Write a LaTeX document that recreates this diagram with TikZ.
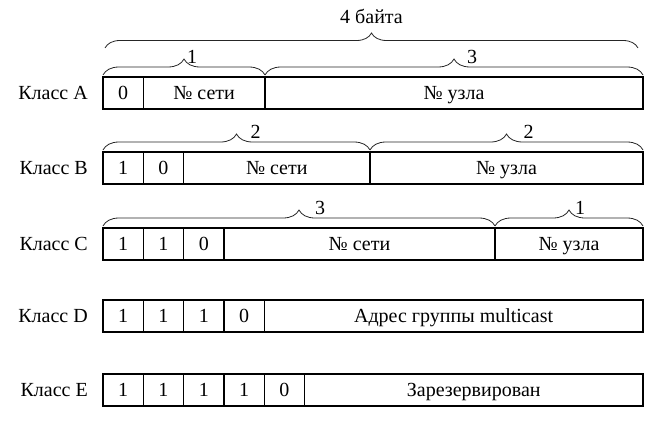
\documentclass[tikz,border=0pt]{standalone}
\usepackage{fontspec}
\setmainfont{Liberation Serif}
\usetikzlibrary{positioning,decorations.pathreplacing}

\begin{document}
\begin{tikzpicture}[x=1pt,y=-1pt,node distance=0pt,font=\fontsize{20}{24}\selectfont]
\tikzstyle{cell}=[draw=black,line width=1.4pt,minimum height=32pt,inner sep=0pt,outer sep=0pt,text height=16pt,text depth=2.4pt]
\tikzstyle{bit}=[cell,minimum width=40.3pt]
\tikzstyle{klass}=[inner sep=0pt,text height=16pt,text depth=2.4pt]
\tikzstyle{brc}=[decorate,decoration={brace,amplitude=16pt,raise=2pt},line width=0.8pt,draw=black!85]
\tikzstyle{cnt}=[midway,yshift=20pt]

\useasboundingbox (0,0) rectangle (655,431);

% Класс A
\node[bit,anchor=north west] (A0) at (103,77) {0};
\node[cell,minimum width=121.7pt,right=of A0] (A1) {№ сети};
\node[cell,minimum width=378pt,right=of A1] (A2) {№ узла};
\node[klass,left=15pt of A0] (kA) {Класс A};

% Класс B
\node[bit,anchor=north west] (B0) at (103,152) {1};
\node[bit,right=of B0] (B1) {0};
\node[cell,minimum width=186.4pt,right=of B1] (B2) {№ сети};
\node[cell,minimum width=273pt,right=of B2] (B3) {№ узла};
\node[klass,left=15pt of B0] (kB) {Класс B};

% Класс C
\node[bit,anchor=north west] (C0) at (103,228) {1};
\node[bit,right=of C0] (C1) {1};
\node[bit,right=of C1] (C2) {0};
\node[cell,minimum width=271.1pt,right=of C2] (C3) {№ сети};
\node[cell,minimum width=148pt,right=of C3] (C4) {№ узла};
\node[klass,left=15pt of C0] (kC) {Класс C};

% Класс D
\node[bit,anchor=north west] (D0) at (103,300) {1};
\node[bit,right=of D0] (D1) {1};
\node[bit,right=of D1] (D2) {1};
\node[bit,right=of D2] (D3) {0};
\node[cell,minimum width=378.8pt,right=of D3] (D4) {Адрес группы multicast};
\node[klass,left=15pt of D0] (kD) {Класс D};

% Класс E
\node[bit,anchor=north west] (E0) at (103,374) {1};
\node[bit,right=of E0] (E1) {1};
\node[bit,right=of E1] (E2) {1};
\node[bit,right=of E2] (E3) {1};
\node[bit,right=of E3] (E4) {0};
\node[cell,minimum width=338.5pt,right=of E4] (E5) {Зарезервирован};
\node[klass,left=15pt of E0] (kE) {Класс E};

% скобки
\draw[brc,decoration={amplitude=15pt,raise=29pt}] ([xshift=2pt]A0.north west) -- ([xshift=-5pt]A2.north east)
  node[midway,yshift=61pt] (bytes) {4 байта};
\draw[brc] (A0.north west) -- (A1.north east) node[cnt,xshift=8pt] (nA1) {1};
\draw[brc] (A2.north west) -- (A2.north east) node[cnt,xshift=18pt] (nA2) {3};
\draw[brc] (B0.north west) -- (B2.north east) node[cnt,xshift=19pt] (nB1) {2};
\draw[brc] (B3.north west) -- (B3.north east) node[cnt,xshift=22pt] (nB2) {2};
\draw[brc] (C0.north west) -- (C3.north east) node[cnt,xshift=21pt] (nC1) {3};
\draw[brc] (C4.north west) -- (C4.north east) node[cnt,xshift=11pt] (nC2) {1};
\end{tikzpicture}
\end{document}
